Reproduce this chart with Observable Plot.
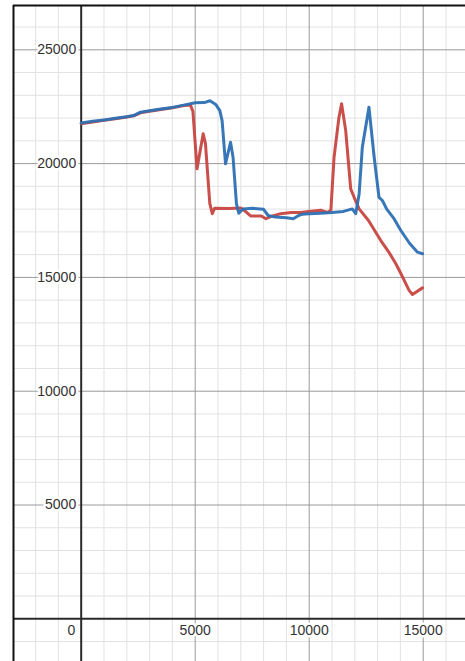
<!DOCTYPE html>
<html>
<head>
<meta charset="utf-8">
<script src="https://cdn.jsdelivr.net/npm/d3@7"></script>
<script src="https://cdn.jsdelivr.net/npm/@observablehq/plot@0.6"></script>
<style>
  html, body { margin: 0; padding: 0; background: white; }
  #chart svg { display: block; }
</style>
</head>
<body>
<div id="chart"></div>
<script>
// ---- data ----
const redX = [0, 500, 1000, 1500, 2000, 2300, 2600, 3000, 3500, 4000, 4500, 4790, 4900, 5080, 5350, 5450, 5640, 5750, 5850, 6500, 7000, 7150, 7430, 7900, 8100, 8400, 8750, 9200, 9600, 10000, 10500, 10800, 10950, 11090, 11300, 11420, 11600, 11820, 11970, 12190, 12600, 13140, 13500, 13800, 14020, 14380, 14530, 14970];
const redY = [21750, 21830, 21900, 21970, 22050, 22100, 22230, 22300, 22380, 22450, 22550, 22570, 22300, 19770, 21310, 20880, 18250, 17800, 18040, 18030, 18050, 17950, 17700, 17700, 17580, 17700, 17800, 17850, 17850, 17900, 17950, 17850, 17950, 20280, 22000, 22630, 21460, 18890, 18520, 18010, 17500, 16620, 16100, 15600, 15170, 14430, 14250, 14540];

const blueX = [0, 500, 1000, 1500, 2000, 2300, 2600, 3000, 3500, 4000, 4500, 5000, 5400, 5650, 5900, 6080, 6180, 6330, 6550, 6660, 6810, 6910, 7100, 7500, 8000, 8200, 8520, 9000, 9300, 9500, 9700, 10000, 10500, 11000, 11500, 11890, 12040, 12190, 12330, 12620, 12850, 13060, 13210, 13400, 13720, 14020, 14400, 14750, 14970];
const blueY = [21780, 21860, 21920, 21990, 22060, 22110, 22260, 22320, 22400, 22470, 22570, 22670, 22680, 22760, 22600, 22330, 21890, 19990, 20940, 20280, 18230, 17820, 18010, 18040, 17990, 17720, 17650, 17620, 17580, 17700, 17780, 17800, 17820, 17850, 17900, 18010, 17800, 18670, 20720, 22480, 20280, 18520, 18380, 18000, 17580, 17060, 16500, 16110, 16040];

const xTickLabels = [5000, 10000, 15000];
const yTickLabels = [5000, 10000, 15000, 20000, 25000];
const xMajor = [5000, 10000, 15000];
const yMajor = [5000, 10000, 15000, 20000, 25000];
const xMinor = [-2000, -1000, 1000, 2000, 3000, 4000, 6000, 7000, 8000, 9000, 11000, 12000, 13000, 14000, 16000];
const yMinor = [-1000, 1000, 2000, 3000, 4000, 6000, 7000, 8000, 9000, 11000, 12000, 13000, 14000, 16000, 17000, 18000, 19000, 21000, 22000, 23000, 24000, 26000];

const xDomain = [-2969, 16855];
const yDomain = [-1876, 26947];

const red = redX.map((x, i) => ({x, y: redY[i]}));
const blue = blueX.map((x, i) => ({x, y: blueY[i]}));

const font = "'Liberation Sans', Arial, sans-serif";

const chart = Plot.plot({
  width: 465,
  height: 661,
  marginLeft: 13,
  marginTop: 5,
  marginRight: 0,
  marginBottom: 0,
  x: {domain: xDomain, axis: null},
  y: {domain: yDomain, axis: null},
  style: {background: "white", fontFamily: font, fontSize: "14px"},
  marks: [
    Plot.ruleX(xMinor, {stroke: "#e2e2e2", strokeWidth: 1}),
    Plot.ruleY(yMinor, {stroke: "#e2e2e2", strokeWidth: 1}),
    Plot.ruleX(xMajor, {stroke: "#9a9a9a", strokeWidth: 1}),
    Plot.ruleY(yMajor, {stroke: "#9a9a9a", strokeWidth: 1}),
    Plot.ruleX([0], {stroke: "#2a2a2a", strokeWidth: 2}),
    Plot.ruleY([0], {stroke: "#2a2a2a", strokeWidth: 2}),
    Plot.text(yTickLabels, {x: 0, y: d => d, text: d => String(d), textAnchor: "end", dx: -5, fill: "#333", stroke: "white", strokeWidth: 5, fontSize: 14}),
    Plot.text(xTickLabels, {x: d => d, y: 0, text: d => String(d), dy: 12, fill: "#333", stroke: "white", strokeWidth: 5, fontSize: 14}),
    Plot.text([0], {x: 0, y: 0, text: d => String(d), textAnchor: "end", dx: -6, dy: 12, fill: "#333", stroke: "white", strokeWidth: 5, fontSize: 14}),
    Plot.line(red, {x: "x", y: "y", stroke: "#c74440", strokeWidth: 3, strokeOpacity: 0.95, strokeLinejoin: "round", strokeLinecap: "round"}),
    Plot.line(blue, {x: "x", y: "y", stroke: "#2d70b3", strokeWidth: 3, strokeOpacity: 0.95, strokeLinejoin: "round", strokeLinecap: "round"}),
    Plot.ruleX([xDomain[0]], {stroke: "#111", strokeWidth: 2}),
    Plot.ruleY([yDomain[1]], {stroke: "#111", strokeWidth: 2})
  ]
});
document.getElementById("chart").appendChild(chart);
</script>
</body>
</html>
